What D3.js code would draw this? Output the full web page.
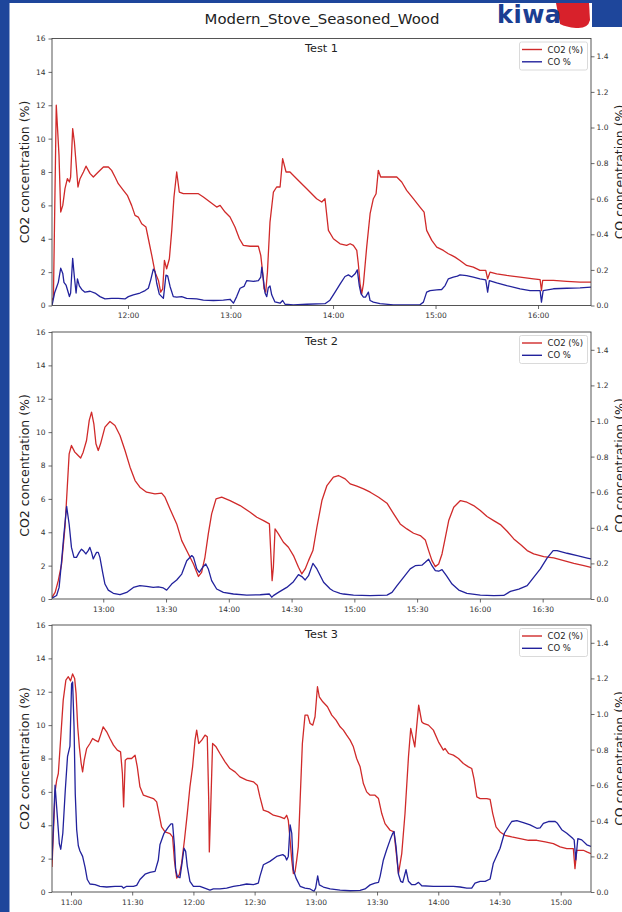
<!DOCTYPE html>
<html><head><meta charset="utf-8">
<script src="https://cdn.jsdelivr.net/npm/d3@7"></script>
<style>html,body{margin:0;padding:0;background:#1e469b;overflow:hidden}svg{display:block}</style>
</head><body>
<svg id="chart" width="622" height="912"></svg>
<script>
const figureTitle = "Modern_Stove_Seasoned_Wood";
const testTitles = ["Test 1", "Test 2", "Test 3"];
const seriesNames = ["CO2 (%)", "CO %"];
const leftAxisLabel = "CO2 concentration (%)";
const rightAxisLabel = "CO concentration (%)";
const co2Ticks = [0, 2, 4, 6, 8, 10, 12, 14, 16];
const coTicks = [0, 0.2, 0.4, 0.6, 0.8, 1.0, 1.2, 1.4];
const test1Ticks = ["12:00", "13:00", "14:00", "15:00", "16:00"];
const test2Ticks = ["13:00", "13:30", "14:00", "14:30", "15:00", "15:30", "16:00", "16:30"];
const test3Ticks = ["11:00", "11:30", "12:00", "12:30", "13:00", "13:30", "14:00", "14:30", "15:00"];

const test1CO2 = [["11:15:30",0.3],["11:16:20",0.5],["11:18:00",12.0],["11:19:36",9.0],["11:20:36",5.6],["11:21:48",6.0],["11:23:06",7.0],["11:24:30",7.6],["11:25:42",7.4],["11:26:24",7.7],["11:27:36",10.6],["11:28:36",9.8],["11:30:00",8.0],["11:30:42",7.1],["11:31:54",7.6],["11:33:54",8.0],["11:35:24",8.35],["11:37:48",7.9],["11:39:42",7.7],["11:42:36",8.0],["11:45:36",8.3],["11:48:30",8.3],["11:50:24",8.1],["11:52:24",7.7],["11:54:18",7.3],["11:57:18",6.9],["11:59:36",6.6],["12:02:06",6.0],["12:04:06",5.4],["12:06:00",5.3],["12:08:00",4.9],["12:10:30",4.7],["12:11:54",4.0],["12:13:54",3.0],["12:15:48",2.0],["12:17:48",1.5],["12:19:06",0.8],["12:20:18",1.0],["12:21:18",2.7],["12:22:36",2.2],["12:24:12",2.8],["12:25:36",4.5],["12:26:54",6.5],["12:28:30",8.0],["12:30:00",6.8],["12:32:24",6.7],["12:36:18",6.7],["12:41:12",6.7],["12:44:06",6.5],["12:48:00",6.2],["12:51:54",5.9],["12:53:54",6.0],["12:56:48",5.6],["12:59:42",5.3],["13:02:36",4.7],["13:05:12",4.0],["13:07:30",3.6],["13:11:24",3.55],["13:16:18",3.55],["13:17:42",3.0],["13:18:48",2.0],["13:19:36",1.0],["13:20:36",0.8],["13:21:36",2.0],["13:23:06",5.0],["13:25:06",6.8],["13:27:00",7.1],["13:29:00",7.1],["13:30:30",8.8],["13:32:30",8.0],["13:34:48",8.0],["13:38:42",7.6],["13:44:36",7.0],["13:50:24",6.4],["13:53:24",6.2],["13:55:18",6.4],["13:57:18",4.5],["14:00:12",4.0],["14:04:06",3.7],["14:08:00",3.6],["14:10:00",3.7],["14:11:54",3.6],["14:13:54",3.3],["14:14:48",2.5],["14:15:48",1.3],["14:16:48",0.7],["14:17:48",1.3],["14:19:42",3.5],["14:21:42",5.5],["14:23:36",6.4],["14:25:12",6.7],["14:26:30",8.1],["14:27:54",7.7],["14:31:24",7.7],["14:37:18",7.7],["14:40:12",7.4],["14:43:06",6.9],["14:47:00",6.4],["14:50:54",5.9],["14:53:18",5.6],["14:54:48",4.5],["14:57:48",3.9],["15:00:42",3.5],["15:04:36",3.3],["15:07:30",3.1],["15:09:30",3.0],["15:11:24",2.9],["15:14:18",2.7],["15:18:12",2.4],["15:22:06",2.3],["15:26:00",2.1],["15:29:24",2.1],["15:30:30",1.6],["15:31:54",2.0],["15:35:48",1.9],["15:41:42",1.8],["15:49:30",1.7],["15:57:18",1.6],["16:01:12",1.55],["16:02:00",0.9],["16:02:42",1.5],["16:09:00",1.5],["16:16:48",1.45],["16:24:36",1.4],["16:31:00",1.4]];

const test1CO = [["11:15:30",0.0],["11:17:00",0.07],["11:18:06",0.1],["11:19:12",0.13],["11:20:36",0.21],["11:21:48",0.18],["11:22:30",0.13],["11:23:42",0.115],["11:25:06",0.07],["11:25:42",0.05],["11:26:24",0.07],["11:27:36",0.265],["11:28:36",0.16],["11:29:36",0.07],["11:30:24",0.15],["11:31:30",0.11],["11:32:54",0.09],["11:34:48",0.075],["11:37:48",0.08],["11:40:42",0.07],["11:43:36",0.05],["11:46:30",0.037],["11:50:24",0.04],["11:54:18",0.04],["11:58:12",0.037],["12:00:12",0.05],["12:03:06",0.06],["12:07:00",0.07],["12:10:00",0.084],["12:11:54",0.097],["12:13:18",0.144],["12:14:48",0.204],["12:15:48",0.19],["12:16:48",0.125],["12:18:18",0.064],["12:19:42",0.05],["12:20:42",0.04],["12:22:12",0.17],["12:23:12",0.167],["12:24:36",0.107],["12:26:30",0.05],["12:28:30",0.047],["12:31:24",0.05],["12:34:18",0.04],["12:40:12",0.037],["12:44:06",0.03],["12:50:00",0.028],["12:55:48",0.03],["12:59:42",0.035],["13:01:42",0.013],["13:03:36",0.05],["13:05:36",0.097],["13:07:54",0.107],["13:09:30",0.14],["13:13:24",0.135],["13:16:18",0.14],["13:17:42",0.16],["13:18:18",0.215],["13:19:12",0.15],["13:20:12",0.07],["13:21:12",0.05],["13:22:06",0.1],["13:23:06",0.11],["13:24:06",0.06],["13:26:00",0.02],["13:29:00",0.013],["13:30:30",0.028],["13:31:54",0.007],["13:36:48",0.004],["13:44:36",0.007],["13:55:18",0.01],["13:58:12",0.03],["14:01:12",0.075],["14:04:06",0.12],["14:07:00",0.163],["14:09:00",0.172],["14:10:54",0.16],["14:12:54",0.178],["14:14:12",0.2],["14:15:24",0.11],["14:16:24",0.065],["14:17:48",0.047],["14:19:00",0.047],["14:20:42",0.075],["14:21:42",0.028],["14:23:36",0.019],["14:27:30",0.01],["14:35:18",0.004],["14:43:06",0.004],["14:50:54",0.004],["14:52:54",0.019],["14:54:48",0.075],["14:56:48",0.084],["15:00:42",0.088],["15:03:36",0.09],["15:05:36",0.112],["15:07:30",0.15],["15:10:24",0.159],["15:12:48",0.165],["15:14:18",0.172],["15:18:12",0.168],["15:22:06",0.159],["15:26:00",0.15],["15:29:24",0.144],["15:30:30",0.075],["15:31:30",0.14],["15:35:48",0.127],["15:41:42",0.112],["15:49:30",0.094],["15:55:18",0.084],["16:01:12",0.084],["16:02:00",0.019],["16:03:00",0.084],["16:09:00",0.094],["16:16:48",0.097],["16:24:36",0.099],["16:31:00",0.103]];

const test2CO2 = [["12:35:30",0.1],["12:37:00",0.4],["12:38:30",1.1],["12:40:06",2.1],["12:41:42",4.3],["12:42:48",6.7],["12:43:42",8.7],["12:44:48",9.2],["12:46:24",8.8],["12:47:12",8.7],["12:48:00",8.6],["12:49:12",8.45],["12:50:24",8.8],["12:52:00",9.5],["12:53:18",10.7],["12:54:24",11.2],["12:55:30",10.5],["12:56:30",9.3],["12:57:36",8.9],["12:58:42",9.3],["13:00:48",10.3],["13:03:12",10.64],["13:05:36",10.4],["13:08:00",9.8],["13:10:24",8.9],["13:12:48",7.9],["13:15:12",7.1],["13:17:30",6.7],["13:20:42",6.4],["13:24:42",6.3],["13:27:54",6.35],["13:29:30",6.1],["13:31:54",5.4],["13:35:06",4.5],["13:37:30",3.5],["13:40:42",2.7],["13:43:06",2.1],["13:45:30",1.35],["13:47:00",1.6],["13:48:36",2.5],["13:50:12",3.9],["13:51:48",5.1],["13:53:54",6.0],["13:56:36",6.1],["14:00:36",5.9],["14:05:24",5.6],["14:10:12",5.2],["14:13:24",4.9],["14:16:36",4.7],["14:19:24",4.5],["14:20:06",2.7],["14:20:42",1.1],["14:21:18",1.9],["14:22:06",4.2],["14:23:42",3.9],["14:26:06",3.4],["14:28:30",3.1],["14:30:54",2.6],["14:33:18",1.9],["14:34:54",1.5],["14:36:30",1.8],["14:38:06",2.3],["14:40:12",2.9],["14:42:06",4.3],["14:44:30",5.9],["14:46:54",6.8],["14:50:00",7.3],["14:52:24",7.4],["14:55:36",7.2],["14:58:00",6.9],["15:01:12",6.76],["15:04:24",6.6],["15:07:36",6.4],["15:11:36",6.1],["15:15:36",5.74],["15:18:48",5.1],["15:21:54",4.5],["15:25:06",4.2],["15:28:18",3.94],["15:31:30",3.8],["15:33:54",3.54],["15:35:30",2.9],["15:37:06",2.3],["15:38:42",1.94],["15:40:18",2.1],["15:41:54",2.7],["15:43:30",3.7],["15:45:06",4.7],["15:47:30",5.5],["15:50:42",5.9],["15:53:48",5.8],["15:57:00",5.6],["16:00:12",5.3],["16:03:24",4.94],["16:06:36",4.7],["16:09:48",4.46],["16:13:00",4.06],["16:16:12",3.6],["16:19:24",3.26],["16:22:36",2.9],["16:25:42",2.7],["16:30:30",2.54],["16:35:18",2.46],["16:40:06",2.3],["16:44:54",2.14],["16:49:42",2.0],["16:53:06",1.9]];

const test2CO = [["12:35:30",0.005],["12:37:42",0.02],["12:38:54",0.065],["12:40:06",0.215],["12:41:12",0.365],["12:42:30",0.52],["12:43:42",0.42],["12:44:48",0.29],["12:46:00",0.234],["12:47:12",0.234],["12:48:30",0.262],["12:49:36",0.28],["12:50:42",0.268],["12:51:42",0.253],["12:52:48",0.272],["12:53:36",0.29],["12:54:24",0.262],["12:55:12",0.225],["12:56:00",0.244],["12:56:48",0.262],["12:57:36",0.262],["12:58:24",0.234],["12:59:42",0.15],["13:00:48",0.084],["13:02:24",0.05],["13:04:48",0.032],["13:08:00",0.024],["13:11:12",0.037],["13:14:24",0.065],["13:17:30",0.075],["13:20:42",0.071],["13:23:54",0.065],["13:26:18",0.068],["13:28:42",0.062],["13:30:18",0.05],["13:32:42",0.084],["13:35:06",0.107],["13:37:30",0.14],["13:39:54",0.215],["13:42:18",0.244],["13:43:06",0.235],["13:44:42",0.169],["13:45:54",0.15],["13:47:30",0.178],["13:49:00",0.197],["13:50:12",0.169],["13:51:48",0.103],["13:54:12",0.056],["13:57:24",0.037],["14:02:12",0.028],["14:08:36",0.022],["14:15:00",0.024],["14:19:24",0.028],["14:20:30",0.01],["14:21:18",0.019],["14:23:42",0.037],["14:27:42",0.065],["14:30:54",0.097],["14:33:18",0.137],["14:34:54",0.126],["14:36:30",0.107],["14:38:06",0.131],["14:40:12",0.2],["14:42:06",0.169],["14:45:18",0.094],["14:48:30",0.056],["14:50:00",0.045],["14:53:12",0.032],["14:54:48",0.028],["14:59:36",0.022],["15:07:36",0.019],["15:15:36",0.022],["15:18:00",0.037],["15:20:24",0.075],["15:23:30",0.122],["15:26:42",0.169],["15:29:06",0.187],["15:32:18",0.19],["15:33:54",0.206],["15:35:30",0.223],["15:37:06",0.187],["15:38:42",0.159],["15:40:18",0.156],["15:41:54",0.165],["15:44:00",0.131],["15:46:42",0.084],["15:49:54",0.05],["15:53:48",0.032],["16:00:12",0.022],["16:06:36",0.019],["16:11:24",0.02],["16:14:36",0.043],["16:18:36",0.056],["16:22:36",0.075],["16:25:42",0.122],["16:28:54",0.169],["16:32:06",0.23],["16:35:00",0.272],["16:36:54",0.272],["16:41:42",0.257],["16:46:30",0.244],["16:51:18",0.23],["16:53:06",0.225]];

const test3CO2 = [["10:50:42",1.5],["10:52:12",6.0],["10:53:00",6.7],["10:53:48",7.1],["10:54:54",9.1],["10:56:12",11.5],["10:57:30",12.7],["10:58:42",12.9],["10:59:48",12.65],["11:00:48",13.07],["11:01:48",12.8],["11:02:30",11.9],["11:03:18",9.9],["11:04:06",8.7],["11:05:00",7.7],["11:05:42",7.2],["11:06:30",7.9],["11:07:42",8.6],["11:09:18",8.9],["11:10:36",9.2],["11:11:48",9.1],["11:13:24",9.0],["11:14:30",9.4],["11:15:48",9.9],["11:17:30",9.6],["11:19:06",9.2],["11:20:48",8.8],["11:22:42",8.5],["11:24:18",8.4],["11:25:12",7.1],["11:25:48",5.1],["11:26:36",7.9],["11:27:36",8.0],["11:29:42",8.0],["11:31:24",8.2],["11:32:30",7.5],["11:33:48",6.3],["11:35:30",5.8],["11:37:54",5.7],["11:40:24",5.6],["11:42:00",5.4],["11:42:48",4.9],["11:44:24",3.9],["11:46:06",3.6],["11:48:30",3.5],["11:49:48",3.3],["11:50:42",1.9],["11:51:48",0.84],["11:53:06",1.04],["11:54:12",1.7],["11:55:36",3.1],["11:57:00",4.7],["11:58:18",6.3],["11:59:36",7.5],["12:00:48",9.1],["12:01:36",9.7],["12:02:36",8.9],["12:04:06",9.1],["12:05:42",9.4],["12:06:48",9.3],["12:07:30",5.5],["12:07:48",2.4],["12:08:30",5.1],["12:09:24",8.9],["12:11:06",8.7],["12:13:00",8.3],["12:15:30",7.8],["12:17:54",7.4],["12:20:24",7.2],["12:22:48",6.9],["12:26:06",6.7],["12:29:24",6.6],["12:31:18",6.4],["12:32:36",5.7],["12:34:18",4.9],["12:36:42",4.8],["12:39:12",4.6],["12:42:30",4.5],["12:44:36",4.4],["12:45:42",4.6],["12:46:30",4.3],["12:47:24",3.1],["12:48:12",1.9],["12:49:00",1.1],["12:49:48",1.2],["12:50:36",1.9],["12:51:24",2.7],["12:52:18",5.5],["12:53:24",8.9],["12:54:42",10.6],["12:56:00",10.6],["12:57:12",10.1],["12:58:30",10.0],["12:59:36",10.5],["13:00:48",12.3],["13:01:42",11.7],["13:03:24",11.4],["13:05:42",11.1],["13:07:48",10.6],["13:09:54",10.3],["13:11:54",9.9],["13:13:30",9.7],["13:15:06",9.4],["13:16:48",9.1],["13:18:24",8.7],["13:20:00",8.0],["13:21:42",7.5],["13:23:18",6.5],["13:24:54",6.0],["13:26:36",5.8],["13:29:00",5.8],["13:30:42",5.6],["13:32:18",4.7],["13:33:54",4.1],["13:36:24",3.7],["13:38:18",3.6],["13:40:30",1.1],["13:42:06",2.3],["13:43:42",4.7],["13:45:24",8.1],["13:46:30",9.8],["13:48:30",8.7],["13:50:24",11.2],["13:51:54",10.2],["13:52:48",10.1],["13:55:12",10.0],["13:57:36",9.7],["14:00:06",9.0],["14:02:30",8.5],["14:03:18",8.6],["14:05:00",8.3],["14:07:24",8.2],["14:09:54",8.0],["14:12:18",7.7],["14:14:48",7.5],["14:16:24",7.4],["14:17:30",6.8],["14:18:54",5.7],["14:20:30",5.6],["14:23:48",5.6],["14:25:24",5.55],["14:26:42",4.7],["14:28:18",3.9],["14:30:18",3.6],["14:32:42",3.4],["14:36:00",3.3],["14:40:06",3.2],["14:44:12",3.1],["14:48:18",3.1],["14:52:24",3.0],["14:56:24",2.9],["14:59:42",2.7],["15:03:00",2.6],["15:06:12",2.6],["15:07:00",1.4],["15:07:54",2.5],["15:11:06",2.5],["15:12:48",2.4],["15:14:51",2.3]];

const test3CO = [["10:50:42",0.18],["10:52:12",0.6],["10:54:18",0.27],["10:55:00",0.24],["10:56:00",0.33],["10:57:12",0.57],["10:58:18",0.76],["10:59:30",0.82],["11:00:18",1.17],["11:00:48",1.18],["11:01:30",0.93],["11:02:06",0.55],["11:02:48",0.35],["11:03:36",0.26],["11:04:24",0.23],["11:05:42",0.2],["11:06:54",0.14],["11:08:00",0.07],["11:09:18",0.045],["11:11:48",0.041],["11:14:12",0.032],["11:17:30",0.028],["11:21:36",0.032],["11:24:48",0.032],["11:25:42",0.022],["11:27:18",0.032],["11:30:36",0.032],["11:32:12",0.037],["11:33:48",0.07],["11:36:18",0.1],["11:38:42",0.11],["11:41:12",0.116],["11:42:48",0.18],["11:43:36",0.265],["11:45:36",0.33],["11:47:42",0.364],["11:49:00",0.383],["11:49:48",0.383],["11:50:42",0.26],["11:51:18",0.125],["11:52:06",0.088],["11:53:24",0.08],["11:54:12",0.144],["11:55:24",0.246],["11:56:12",0.228],["11:57:00",0.144],["11:58:18",0.06],["12:00:00",0.032],["12:03:12",0.032],["12:06:30",0.017],["12:08:06",0.01],["12:09:48",0.017],["12:13:00",0.017],["12:16:18",0.022],["12:19:36",0.032],["12:22:48",0.037],["12:26:06",0.045],["12:29:24",0.041],["12:31:48",0.05],["12:32:36",0.088],["12:34:18",0.153],["12:37:30",0.172],["12:40:48",0.2],["12:43:48",0.21],["12:45:00",0.2],["12:45:42",0.18],["12:46:30",0.2],["12:47:24",0.377],["12:48:12",0.33],["12:49:00",0.125],["12:50:18",0.078],["12:52:18",0.032],["12:54:42",0.022],["12:57:12",0.017],["12:59:06",0.004],["12:59:54",0.022],["13:00:54",0.09],["13:01:42",0.04],["13:03:42",0.028],["13:07:00",0.017],["13:11:54",0.01],["13:16:48",0.007],["13:21:42",0.009],["13:24:06",0.017],["13:26:36",0.04],["13:29:00",0.05],["13:30:42",0.054],["13:31:30",0.088],["13:33:06",0.18],["13:34:42",0.237],["13:36:24",0.293],["13:37:42",0.33],["13:38:18",0.34],["13:39:18",0.256],["13:40:30",0.1],["13:41:36",0.06],["13:42:36",0.054],["13:44:12",0.125],["13:45:24",0.06],["13:47:00",0.041],["13:48:36",0.041],["13:50:18",0.054],["13:51:54",0.035],["13:57:36",0.032],["14:04:12",0.032],["14:07:24",0.032],["14:10:42",0.028],["14:14:00",0.022],["14:16:24",0.022],["14:18:00",0.05],["14:20:30",0.06],["14:23:00",0.06],["14:25:24",0.073],["14:27:00",0.162],["14:30:18",0.246],["14:32:24",0.33],["14:34:24",0.368],["14:36:00",0.396],["14:38:30",0.401],["14:41:42",0.39],["14:45:00",0.377],["14:48:18",0.358],["14:49:54",0.36],["14:51:30",0.386],["14:54:00",0.396],["14:57:18",0.396],["14:58:24",0.386],["15:00:30",0.35],["15:03:00",0.33],["15:06:00",0.3],["15:06:36",0.293],["15:07:24",0.18],["15:08:24",0.3],["15:10:18",0.293],["15:12:48",0.265],["15:14:51",0.256]];

const W = 622, H = 912;
const BLUE_BG = "#1e469b";
const RED = "#d02a2a", NAVY = "#22229c";
const FONT = "DejaVu Sans";
const svg = d3.select("#chart");

// slide background
svg.append("rect").attr("width", W).attr("height", H).attr("fill", BLUE_BG);
svg.append("rect").attr("x", 9.5).attr("y", 3).attr("width", W - 9.5).attr("height", H - 3).attr("fill", "#fff");
svg.append("rect").attr("x", 592).attr("y", 0).attr("width", 30).attr("height", 27).attr("fill", BLUE_BG);

// logo
svg.append("path").attr("d", "M556,3 L589,3 L590,20 Q588,29 576,28 Q566,27 560,24 Z").attr("fill", "#d8212b");
svg.append("text").attr("x", 497).attr("y", 23).attr("font-family", FONT).attr("font-weight", "bold")
  .attr("font-size", 24).attr("fill", "#1b3e92").attr("textLength", 64).text("kiwa");

// figure title
svg.append("text").attr("x", 322).attr("y", 23.5).attr("text-anchor", "middle")
  .attr("font-family", FONT).attr("font-size", 14.9).attr("fill", "#222").text(figureTitle);

const parseT = d3.timeParse("%H:%M:%S");
const parseTick = d3.timeParse("%H:%M");
const left = 52, right = 591, ph = 267;
const panels = [
  {title: testTitles[0], co2: test1CO2, co: test1CO, ticks: test1Ticks, top: 38.5},
  {title: testTitles[1], co2: test2CO2, co: test2CO, ticks: test2Ticks, top: 332},
  {title: testTitles[2], co2: test3CO2, co: test3CO, ticks: test3Ticks, top: 625}
];

panels.forEach((p, i) => {
  const g = svg.append("g");
  const co2 = p.co2.map(d => ({t: parseT(d[0]), v: d[1]}));
  const co = p.co.map(d => ({t: parseT(d[0]), v: d[1]}));
  const bottom = p.top + ph;
  const x = d3.scaleTime().domain(d3.extent(co2.concat(co), d => d.t)).range([left, right]);
  const yL = d3.scaleLinear().domain([0, 16]).range([bottom, p.top]);
  const yR = d3.scaleLinear().domain([0, 1.5]).range([bottom, p.top]);

  const clipId = "clip" + i;
  g.append("clipPath").attr("id", clipId).append("rect")
    .attr("x", left).attr("y", p.top).attr("width", right - left).attr("height", ph);

  const lineL = d3.line().x(d => x(d.t)).y(d => yL(d.v));
  const lineR = d3.line().x(d => x(d.t)).y(d => yR(d.v));
  g.append("path").datum(co2).attr("d", lineL).attr("fill", "none").attr("stroke", RED)
    .attr("stroke-width", 1.3).attr("stroke-linejoin", "round").attr("clip-path", `url(#${clipId})`);
  g.append("path").datum(co).attr("d", lineR).attr("fill", "none").attr("stroke", NAVY)
    .attr("stroke-width", 1.3).attr("stroke-linejoin", "round").attr("clip-path", `url(#${clipId})`);

  // axes
  const styleAxis = sel => {
    sel.select(".domain").remove();
    sel.selectAll(".tick line").attr("stroke", "#444").attr("stroke-width", 0.8);
    sel.selectAll(".tick text").attr("fill", "#333").attr("font-family", FONT).attr("font-size", 7.5);
  };
  g.append("g").attr("transform", `translate(${left},0)`)
    .call(d3.axisLeft(yL).tickValues(co2Ticks).tickFormat(d3.format("d")).tickSize(3.5).tickPadding(3))
    .call(styleAxis);
  g.append("g").attr("transform", `translate(${right},0)`)
    .call(d3.axisRight(yR).tickValues(coTicks).tickFormat(d3.format(".1f")).tickSize(3.5).tickPadding(2))
    .call(styleAxis);
  g.append("g").attr("transform", `translate(0,${bottom})`)
    .call(d3.axisBottom(x).tickValues(p.ticks.map(parseTick)).tickFormat(d3.timeFormat("%H:%M")).tickSize(3.5).tickPadding(4))
    .call(styleAxis);

  // frame
  g.append("rect").attr("x", left).attr("y", p.top).attr("width", right - left).attr("height", ph)
    .attr("fill", "none").attr("stroke", "#444").attr("stroke-width", 0.9);

  // panel title
  g.append("text").attr("x", (left + right) / 2).attr("y", p.top + 13)
    .attr("text-anchor", "middle").attr("font-family", FONT).attr("font-size", 11.3).attr("fill", "#222").text(p.title);

  // axis labels
  const midY = p.top + ph / 2;
  g.append("text").attr("transform", `translate(29,${midY}) rotate(-90)`).attr("text-anchor", "middle")
    .attr("font-family", FONT).attr("font-size", 12.5).attr("fill", "#222").text(leftAxisLabel);
  g.append("text").attr("transform", `translate(624,${midY}) rotate(-90)`).attr("text-anchor", "middle")
    .attr("font-family", FONT).attr("font-size", 12.5).attr("fill", "#222").text(rightAxisLabel);

  // legend
  const lg = g.append("g").attr("transform", `translate(519.5,${p.top + 3.5})`);
  lg.append("rect").attr("width", 68).attr("height", 28).attr("rx", 2)
    .attr("fill", "#fff").attr("fill-opacity", 0.85).attr("stroke", "#d0d0d0").attr("stroke-width", 0.8);
  [RED, NAVY].forEach((c, k) => {
    const yy = 7.5 + k * 12.3;
    lg.append("line").attr("x1", 2.5).attr("x2", 22.5).attr("y1", yy).attr("y2", yy)
      .attr("stroke", c).attr("stroke-width", 1.4);
    lg.append("text").attr("x", 28).attr("y", yy + 3).attr("font-family", FONT).attr("font-size", 8.5)
      .attr("fill", "#222").text(seriesNames[k]);
  });
});
</script>
</body></html>
